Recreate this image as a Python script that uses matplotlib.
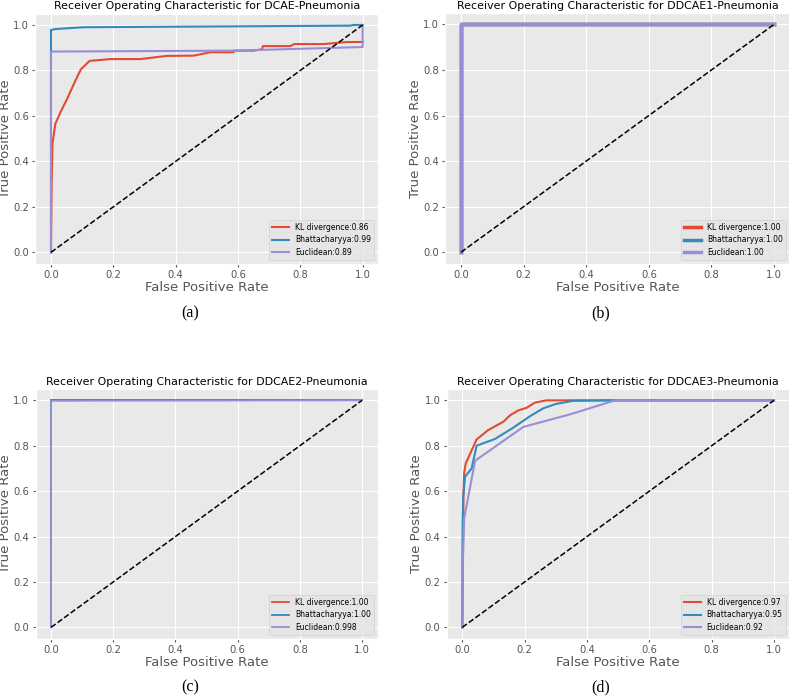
import matplotlib
matplotlib.use("Agg")
import matplotlib.pyplot as plt
import numpy as np

plt.style.use("ggplot")

# ---- data ----
titles = ["Receiver Operating Characteristic for DCAE-Pneumonia",
          "Receiver Operating Characteristic for DDCAE1-Pneumonia",
          "Receiver Operating Characteristic for DDCAE2-Pneumonia",
          "Receiver Operating Characteristic for DDCAE3-Pneumonia"]
captions = ["(a)", "(b)", "(c)", "(d)"]
series_names = ["KL divergence", "Bhattacharyya", "Euclidean"]
auc_labels = [["0.86", "0.99", "0.89"],
              ["1.00", "1.00", "1.00"],
              ["1.00", "1.00", "0.998"],
              ["0.97", "0.95", "0.92"]]

# (a) DCAE
a_kl_fpr = [0, 0.002, 0.005, 0.014, 0.03, 0.05, 0.08, 0.096, 0.124, 0.19, 0.287, 0.372, 0.458,
            0.511, 0.586, 0.586, 0.65, 0.677, 0.68, 0.768, 0.78, 0.875, 0.95, 1.0]
a_kl_tpr = [0, 0.3, 0.48, 0.565, 0.615, 0.67, 0.76, 0.805, 0.842, 0.85, 0.85, 0.864, 0.865,
            0.88, 0.88, 0.887, 0.887, 0.893, 0.907, 0.907, 0.916, 0.916, 0.925, 0.925]
a_bh_fpr = [0, 0, 0.014, 0.105, 0.48, 0.96, 0.97, 1.0]
a_bh_tpr = [0, 0.978, 0.982, 0.99, 0.993, 0.997, 1.0, 1.0]
a_eu_fpr = [0, 0, 0.586, 1.0, 1.0]
a_eu_tpr = [0, 0.883, 0.887, 0.903, 1.0]

# (b) DDCAE1
b_kl_fpr = [0, 0, 1]; b_kl_tpr = [0, 1, 1]
b_bh_fpr = [0, 0, 1]; b_bh_tpr = [0, 1, 1]
b_eu_fpr = [0, 0, 1]; b_eu_tpr = [0, 1, 1]

# (c) DDCAE2
c_kl_fpr = [0, 0, 1]; c_kl_tpr = [0, 1, 1]
c_bh_fpr = [0, 0, 1]; c_bh_tpr = [0, 1, 1]
c_eu_fpr = [0, 0, 0.002, 1]; c_eu_tpr = [0, 0.996, 0.998, 1]

# (d) DDCAE3
d_kl_fpr = [0, 0.002, 0.004, 0.006, 0.011, 0.046, 0.083, 0.132, 0.153, 0.18, 0.206, 0.233, 0.27, 1.0]
d_kl_tpr = [0, 0.36, 0.6, 0.68, 0.722, 0.828, 0.869, 0.906, 0.934, 0.956, 0.967, 0.99, 1.0, 1.0]
d_bh_fpr = [0, 0.001, 0.003, 0.009, 0.03, 0.046, 0.105, 0.164, 0.217, 0.26, 0.30, 0.356, 0.48, 1.0]
d_bh_tpr = [0, 0.44, 0.576, 0.664, 0.70, 0.80, 0.83, 0.88, 0.93, 0.965, 0.984, 0.998, 1.0, 1.0]
d_eu_fpr = [0, 0.001, 0.006, 0.041, 0.12, 0.196, 0.35, 0.49, 1.0]
d_eu_tpr = [0, 0.24, 0.48, 0.734, 0.81, 0.883, 0.94, 1.0, 1.0]

panels = [
    [(a_kl_fpr, a_kl_tpr), (a_bh_fpr, a_bh_tpr), (a_eu_fpr, a_eu_tpr)],
    [(b_kl_fpr, b_kl_tpr), (b_bh_fpr, b_bh_tpr), (b_eu_fpr, b_eu_tpr)],
    [(c_kl_fpr, c_kl_tpr), (c_bh_fpr, c_bh_tpr), (c_eu_fpr, c_eu_tpr)],
    [(d_kl_fpr, d_kl_tpr), (d_bh_fpr, d_bh_tpr), (d_eu_fpr, d_eu_tpr)],
]

colors = ["#E24A33", "#348ABD", "#988ED5"]
linewidths = [1.5, 2.5, 1.3, 1.5]

W, H = 789, 696
fig = plt.figure(figsize=(W / 100, H / 100), dpi=100)

# axes rectangles in pixels: (left, top, width, height)
rects = [(35.4, 13.6, 342.8, 250.1),
         (445.4, 13.0, 344.3, 250.6),
         (35.5, 389.0, 342.1, 249.7),
         (446.7, 389.0, 342.9, 249.7)]
cap_pos = [(190, 313), (601, 313), (190, 687), (601, 687)]

for i, (l, t, w, h) in enumerate(rects):
    ax = fig.add_axes([l / W, 1 - (t + h) / H, w / W, h / H])
    ax.set_facecolor("#E9E9E9")
    for j, (fpr, tpr) in enumerate(panels[i]):
        ax.plot(fpr, tpr, color=colors[j], lw=linewidths[i],
                label=f"{series_names[j]}:{auc_labels[i][j]}")
    ax.plot([0, 1], [0, 1], "k--", lw=1.1)
    ax.set_title(titles[i], fontsize=7.9, pad=3)
    ax.set_xlabel("False Positive Rate", fontsize=9.5, labelpad=1)
    ax.set_ylabel("True Positive Rate", fontsize=9.5, labelpad=1)
    ax.set_xticks([0, 0.2, 0.4, 0.6, 0.8, 1.0])
    ax.set_yticks([0, 0.2, 0.4, 0.6, 0.8, 1.0])
    ax.tick_params(labelsize=7.2, length=2.5, pad=2)
    ax.legend(loc="lower right", fontsize=5.5, handlelength=2.2, labelspacing=0.45)
    fig.text(cap_pos[i][0] / W, 1 - cap_pos[i][1] / H, captions[i],
             family="Liberation Serif", fontsize=11.5, ha="center", va="center")

fig.savefig("out.png", dpi=100, facecolor="white")
